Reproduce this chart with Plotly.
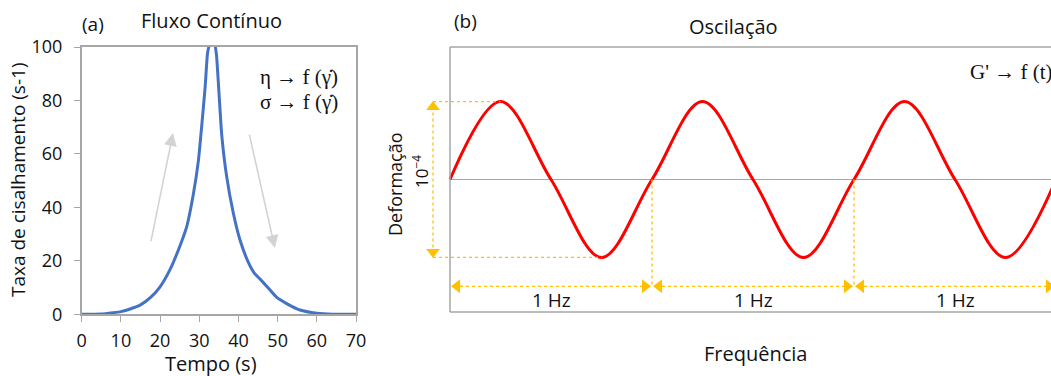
import plotly.graph_objects as go

# ---------------- data ----------------
# Panel (a): continuous flow
time_s = [0, 5, 8, 10, 12, 15, 17.5, 20, 22.5, 25, 26.8, 28.5, 29.8, 30.6, 31.5, 32.1,
          32.6, 33.3, 34.0, 34.4, 34.9, 35.7, 37, 38.7, 40.4, 42.5, 44.0, 45.5, 47.2, 49.7,
          52.3, 55.7, 60, 64, 70]
shear_rate = [0, 0.1, 0.6, 1, 1.8, 3.5, 6.2, 10.3, 16.6, 25.3, 32.8, 45, 57.7, 70, 85, 97.6,
              100.5, 101, 100.5, 97, 86, 67.7, 51.5, 37.8, 27.8, 19.5, 15.5, 13.2, 10.5, 6.4,
              4.0, 1.6, 0.4, 0, 0]
x_ticks_a = [0, 10, 20, 30, 40, 50, 60, 70]
y_ticks_a = [0, 20, 40, 60, 80, 100]

# gray trend arrows (tail -> head) in data units of panel (a)
up_arrow = [(17.6, 26.8), (23.3, 67.8)]
down_arrow = [(42.7, 67.8), (49.3, 24.8)]

# Panel (b): oscillation (cycles vs normalised strain)
cycle = [0, 0.25, 0.5, 0.75, 1.0, 1.25, 1.5, 1.75, 2.0, 2.25, 2.5, 2.75, 3.0]
strain = [0, 1, 0, -1, 0, 1, 0, -1, 0, 1, 0, -1, 0]
hz_labels = ["1 Hz", "1 Hz", "1 Hz"]

W, H = 1051, 376
YELLOW = "#FFC000"
GRAY = "#a6a6a6"
FONT = "Open Sans"

# ---------------- layout geometry ----------------
ax_l, ax_r = 81.7, 356.0          # panel (a) plot px
top_px, bot_a, bot_b = 47.0, 314.3, 312.0
b_left, px_per_cycle = 450.0, 202.0
b_xmin = -0.1
b_xmax = (W - b_left) / px_per_cycle
b_dom_left = (b_left + b_xmin * px_per_cycle) / W

fig = go.Figure()

fig.add_trace(go.Scatter(x=time_s, y=shear_rate, mode="lines",
                         line=dict(color="#4472C4", width=3, shape="spline", smoothing=0.4),
                         xaxis="x", yaxis="y", hoverinfo="skip"))

fig.add_trace(go.Scatter(x=cycle, y=strain, mode="lines",
                         line=dict(color="#FF0000", width=3, shape="spline", smoothing=1.0),
                         xaxis="x2", yaxis="y2", hoverinfo="skip"))

# positions derived from the oscillation data
peak_x = cycle[strain.index(1)]
trough_x = cycle[strain.index(-1)]
period_starts = cycle[::4]          # upward zero crossings: 0, 1, 2, 3
amp_x = -0.084
hz_y = -1.37

shapes = []
# panel (b) box (left, top, bottom) and zero line
shapes.append(dict(type="line", xref="x2", yref="y2 domain", x0=0, x1=0, y0=0, y1=1,
                   line=dict(color=GRAY, width=1.5)))
shapes.append(dict(type="line", xref="x2", yref="y2 domain", x0=0, x1=b_xmax, y0=1, y1=1,
                   line=dict(color=GRAY, width=1.5)))
shapes.append(dict(type="line", xref="x2", yref="y2 domain", x0=0, x1=b_xmax, y0=0, y1=0,
                   line=dict(color=GRAY, width=1.5)))
shapes.append(dict(type="line", xref="x2", yref="y2", x0=0, x1=b_xmax, y0=0, y1=0,
                   line=dict(color=GRAY, width=1.2), layer="below"))

dot = dict(color=YELLOW, width=1.3, dash="dot")
# amplitude guides
shapes.append(dict(type="line", xref="x2", yref="y2", x0=amp_x, x1=peak_x, y0=1, y1=1, line=dot))
shapes.append(dict(type="line", xref="x2", yref="y2", x0=amp_x, x1=trough_x, y0=-1, y1=-1, line=dot))
shapes.append(dict(type="line", xref="x2", yref="y2", x0=amp_x, x1=amp_x, y0=-0.95, y1=0.95, line=dot))
# period guides
for z in period_starts[1:3]:
    shapes.append(dict(type="line", xref="x2", yref="y2", x0=z, x1=z, y0=0, y1=hz_y, line=dot))
for i in range(3):
    shapes.append(dict(type="line", xref="x2", yref="y2", x0=period_starts[i] + 0.02,
                       x1=period_starts[i + 1] - 0.02, y0=hz_y, y1=hz_y, line=dot))

fig.add_trace(go.Scatter(x=[amp_x], y=[0.93], mode="markers",
                         marker=dict(symbol="triangle-up", size=12, color=YELLOW),
                         xaxis="x2", yaxis="y2", cliponaxis=False, hoverinfo="skip"))
fig.add_trace(go.Scatter(x=[amp_x], y=[-0.93], mode="markers",
                         marker=dict(symbol="triangle-down", size=12, color=YELLOW),
                         xaxis="x2", yaxis="y2", cliponaxis=False, hoverinfo="skip"))
fig.add_trace(go.Scatter(x=[z + 0.035 for z in period_starts[0:3]], y=[hz_y] * 3, mode="markers",
                         marker=dict(symbol="triangle-left", size=12, color=YELLOW),
                         xaxis="x2", yaxis="y2", cliponaxis=False, hoverinfo="skip"))
fig.add_trace(go.Scatter(x=[z - 0.035 for z in period_starts[1:4]], y=[hz_y] * 3, mode="markers",
                         marker=dict(symbol="triangle-right", size=12, color=YELLOW),
                         xaxis="x2", yaxis="y2", cliponaxis=False, hoverinfo="skip"))

ann = []
def txt(x, y, s, size=17, angle=0, family=FONT, xanchor="center"):
    ann.append(dict(x=x / W, y=1 - y / H, xref="paper", yref="paper", text=s,
                    showarrow=False, textangle=angle, xanchor=xanchor, yanchor="middle",
                    font=dict(family=family, size=size, color="#111111")))

txt(93, 24, "(a)", size=19)
txt(211, 21, "Fluxo Contínuo", size=20)
txt(211, 363, "Tempo (s)", size=20)
txt(18, 180, "Taxa de cisalhamento (s-1)", size=19, angle=-90)
txt(299, 77, "η → f (γ̇)", size=21, family="Liberation Serif")
txt(299, 102, "σ → f (γ̇)", size=21, family="Liberation Serif")
txt(465, 21, "(b)", size=19)
txt(733, 26, "Oscilação", size=20)
txt(755, 353, "Frequência", size=20)
txt(395, 184, "Deformação", size=18, angle=-90)
txt(421, 172, "10<sup>−4</sup>", size=17, angle=-90)
txt(968, 72, "G' → f (t)", size=21, family="Liberation Serif", xanchor="left")

for i, lab in enumerate(hz_labels):
    ann.append(dict(x=(period_starts[i] + period_starts[i + 1]) / 2, y=-1.54, xref="x2", yref="y2",
                    text=lab, showarrow=False,
                    font=dict(family=FONT, size=19, color="#111111")))

for (tail, head) in (up_arrow, down_arrow):
    ann.append(dict(x=head[0], y=head[1], ax=tail[0], ay=tail[1], xref="x", yref="y",
                    axref="x", ayref="y", text="", showarrow=True, arrowhead=2,
                    arrowsize=1.6, arrowwidth=1.6, arrowcolor="#d3d3d3"))

fig.update_layout(
    width=W, height=H, showlegend=False,
    paper_bgcolor="white", plot_bgcolor="white",
    margin=dict(l=0, r=0, t=0, b=0, autoexpand=False),
    shapes=shapes, annotations=ann,
    xaxis=dict(domain=[ax_l / W, ax_r / W], range=[0, 70], tickvals=x_ticks_a,
               showline=True, linecolor=GRAY, linewidth=1.5, mirror=True,
               ticks="outside", ticklen=6, tickcolor=GRAY, showgrid=False, zeroline=False,
               ticklabelstandoff=3,
               tickfont=dict(family=FONT, size=18, color="#111111"), anchor="y"),
    yaxis=dict(domain=[1 - bot_a / H, 1 - top_px / H], range=[0, 100], tickvals=y_ticks_a,
               showline=True, linecolor=GRAY, linewidth=1.5, mirror=True,
               ticks="outside", ticklen=6, tickcolor=GRAY, showgrid=False, zeroline=False,
               ticklabelstandoff=8,
               tickfont=dict(family=FONT, size=18, color="#111111"), anchor="x"),
    xaxis2=dict(domain=[b_dom_left, 1], range=[b_xmin, b_xmax], visible=False, anchor="y2"),
    yaxis2=dict(domain=[1 - bot_b / H, 1 - top_px / H], range=[-1.7, 1.7], visible=False,
                anchor="x2"),
)

fig.write_html("out.html", config={"displayModeBar": False},
               post_script="document.body.style.margin='0';")
